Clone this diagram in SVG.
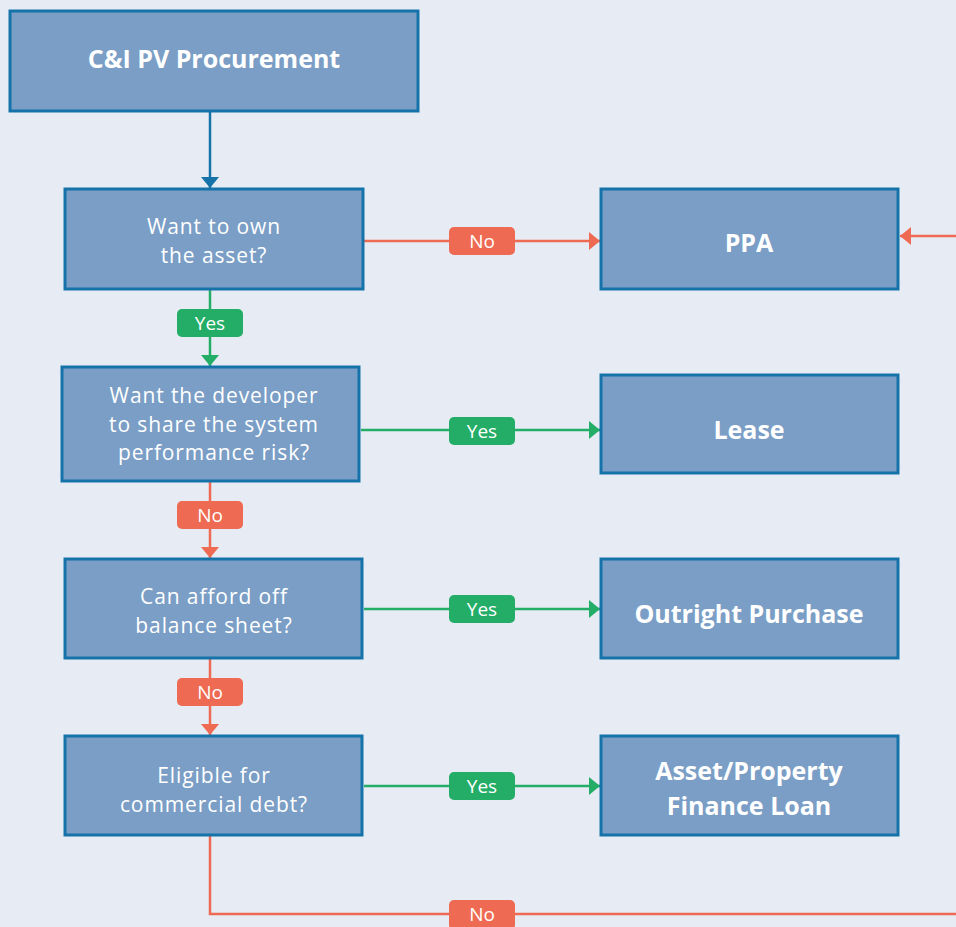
<svg xmlns="http://www.w3.org/2000/svg" width="956" height="927" viewBox="0 0 956 927">
<style>
.bg{fill:#e7ecf4}
.box{fill:#7a9ec5;stroke:#1673a9;stroke-width:3}
.q{font-family:"Open Sans",Lato,sans-serif;font-size:21px;letter-spacing:0.9px;fill:#ffffff;text-anchor:middle}
.t{font-family:"Open Sans",Lato,sans-serif;font-size:25px;font-weight:bold;fill:#ffffff;text-anchor:middle}
.lbl{font-family:"Open Sans",Lato,sans-serif;font-size:19px;fill:#ffffff;text-anchor:middle}
.blue{stroke:#1673a9;stroke-width:2.5;fill:none}
.red{stroke:#ee6a52;stroke-width:2.5;fill:none}
.green{stroke:#23ad67;stroke-width:2.5;fill:none}
.rb{fill:#ee6a52}
.gb{fill:#23ad67}
</style>
<defs>
<marker id="ab" markerUnits="userSpaceOnUse" markerWidth="20" markerHeight="20" refX="11" refY="9" orient="auto"><path d="M0,0 L11,9 L0,18 Z" fill="#1673a9"/></marker>
<marker id="ar" markerUnits="userSpaceOnUse" markerWidth="20" markerHeight="20" refX="11" refY="9" orient="auto"><path d="M0,0 L11,9 L0,18 Z" fill="#ee6a52"/></marker>
<marker id="ag" markerUnits="userSpaceOnUse" markerWidth="20" markerHeight="20" refX="11" refY="9" orient="auto"><path d="M0,0 L11,9 L0,18 Z" fill="#23ad67"/></marker>
</defs>
<rect class="bg" x="0" y="0" width="956" height="927"/>
<g id="connectors">
<path class="blue" d="M210,112 V188" marker-end="url(#ab)"/>
<path class="red" d="M364,241 H600" marker-end="url(#ar)"/>
<path class="green" d="M210,290 V366" marker-end="url(#ag)"/>
<path class="green" d="M361,430 H600" marker-end="url(#ag)"/>
<path class="red" d="M210,482 V558" marker-end="url(#ar)"/>
<path class="green" d="M364,609 H600" marker-end="url(#ag)"/>
<path class="red" d="M210,659 V735" marker-end="url(#ar)"/>
<path class="green" d="M364,786 H600" marker-end="url(#ag)"/>
<path class="red" d="M210,836 V914 H975 V236 H900" marker-end="url(#ar)"/>
<g id="lbl-no1"><rect class="rb" x="449" y="227" width="66" height="28" rx="5"/><text class="lbl" x="482" y="248">No</text></g>
<g id="lbl-yes1"><rect class="gb" x="177" y="309" width="66" height="28" rx="5"/><text class="lbl" x="210" y="330">Yes</text></g>
<g id="lbl-yes2"><rect class="gb" x="449" y="417" width="66" height="28" rx="5"/><text class="lbl" x="482" y="438">Yes</text></g>
<g id="lbl-no2"><rect class="rb" x="177" y="501" width="66" height="28" rx="5"/><text class="lbl" x="210" y="522">No</text></g>
<g id="lbl-yes3"><rect class="gb" x="449" y="595" width="66" height="28" rx="5"/><text class="lbl" x="482" y="616">Yes</text></g>
<g id="lbl-no3"><rect class="rb" x="177" y="678" width="66" height="28" rx="5"/><text class="lbl" x="210" y="699">No</text></g>
<g id="lbl-yes4"><rect class="gb" x="449" y="772" width="66" height="28" rx="5"/><text class="lbl" x="482" y="793">Yes</text></g>
<g id="lbl-no4"><rect class="rb" x="449" y="900" width="66" height="30" rx="5"/><text class="lbl" x="482" y="921">No</text></g>
</g>
<g id="start"><rect class="box" x="10" y="11" width="408" height="100"/><text class="t" x="214" y="68">C&amp;I PV Procurement</text></g>
<g id="q-own"><rect class="box" x="65" y="189" width="298" height="100"/><text class="q" x="214" y="234">Want to own</text><text class="q" x="214" y="263">the asset?</text></g>
<g id="q-risk"><rect class="box" x="62" y="367" width="297" height="114"/><text class="q" x="214" y="403">Want the developer</text><text class="q" x="214" y="431.5">to share the system</text><text class="q" x="214" y="460">performance risk?</text></g>
<g id="q-afford"><rect class="box" x="65" y="559" width="297" height="99"/><text class="q" x="214" y="604">Can afford off</text><text class="q" x="214" y="633">balance sheet?</text></g>
<g id="q-debt"><rect class="box" x="65" y="736" width="297" height="99"/><text class="q" x="214" y="783">Eligible for</text><text class="q" x="214" y="812">commercial debt?</text></g>
<g id="ppa"><rect class="box" x="601" y="189" width="297" height="100"/><text class="t" x="749" y="252">PPA</text></g>
<g id="lease"><rect class="box" x="601" y="375" width="297" height="98"/><text class="t" x="749" y="439">Lease</text></g>
<g id="purchase"><rect class="box" x="601" y="559" width="297" height="99"/><text class="t" x="749" y="623">Outright Purchase</text></g>
<g id="loan"><rect class="box" x="601" y="736" width="297" height="99"/><text class="t" x="749" y="780">Asset/Property</text><text class="t" x="749" y="815">Finance Loan</text></g>
</svg>
